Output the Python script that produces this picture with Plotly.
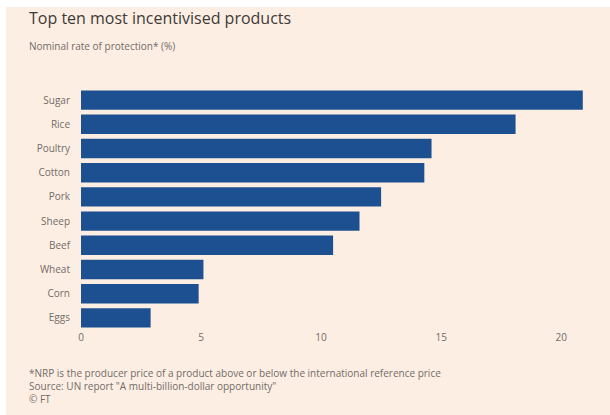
import plotly.graph_objects as go

categories = ["Sugar", "Rice", "Poultry", "Cotton", "Pork", "Sheep", "Beef", "Wheat", "Corn", "Eggs"]
values = [20.9, 18.1, 14.6, 14.3, 12.5, 11.6, 10.5, 5.1, 4.9, 2.9]
x_ticks = [0, 5, 10, 15, 20]

W, H = 610, 415
L, R, T, B = 81, 20, 88, 85

fig = go.Figure(go.Bar(
    x=values, y=categories, orientation="h",
    marker=dict(color="#1c5090", line=dict(width=0)),
))

pw = W - L - R
ph = H - T - B
def px(x): return (x - L) / pw
def py(y): return 1 - (y - T) / ph

fig.update_layout(
    width=W, height=H,
    margin=dict(l=L, r=R, t=T, b=B),
    paper_bgcolor="white",
    plot_bgcolor="rgba(0,0,0,0)",
    bargap=0.2,
    font=dict(family="Open Sans", color="#716c68", size=10),
    showlegend=False,
    xaxis=dict(range=[0, 21.2], tickvals=x_ticks, showgrid=False, zeroline=False,
               showline=False, ticks="", tickfont=dict(size=10, color="#716c68")),
    yaxis=dict(categoryorder="array", categoryarray=categories[::-1], showgrid=False,
               zeroline=False, showline=False, ticks="outside", ticklen=8,
               tickcolor="rgba(0,0,0,0)", tickfont=dict(size=10, color="#716c68")),
    shapes=[dict(type="rect", xref="paper", yref="paper", layer="below",
                 x0=px(6), x1=px(610), y0=py(415), y1=py(7),
                 fillcolor="#fdeee3", line=dict(width=0))],
    annotations=[
        dict(text="Top ten most incentivised products", xref="paper", yref="paper",
             x=px(27), y=py(18), xanchor="left", yanchor="middle", showarrow=False,
             font=dict(size=16, color="#3d3a37")),
        dict(text="Nominal rate of protection* (%)", xref="paper", yref="paper",
             x=px(27), y=py(46), xanchor="left", yanchor="middle", showarrow=False,
             font=dict(size=10, color="#716c68")),
        dict(text="*NRP is the producer price of a product above or below the international reference price",
             xref="paper", yref="paper", x=px(27), y=py(373), xanchor="left", yanchor="middle",
             showarrow=False, font=dict(size=10, color="#716c68")),
        dict(text="Source: UN report \"A multi-billion-dollar opportunity\"",
             xref="paper", yref="paper", x=px(27), y=py(386), xanchor="left", yanchor="middle",
             showarrow=False, font=dict(size=10, color="#716c68")),
        dict(text="© FT", xref="paper", yref="paper", x=px(27), y=py(399), xanchor="left",
             yanchor="middle", showarrow=False, font=dict(size=10, color="#716c68")),
    ],
)

fig.write_html("out.html")
